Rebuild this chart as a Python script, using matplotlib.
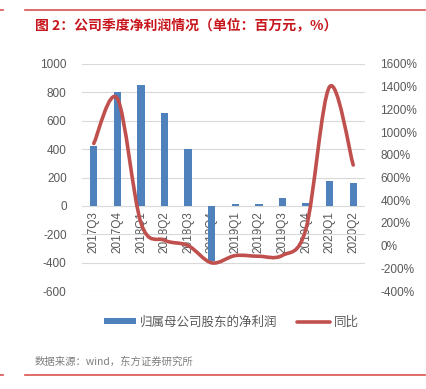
import numpy as np
import matplotlib as mpl
import matplotlib.pyplot as plt
from matplotlib.path import Path
from matplotlib.patches import PathPatch, Patch
from matplotlib.lines import Line2D

mpl.rc('font', family=['Noto Sans CJK SC', 'DejaVu Sans'])
mpl.rc('axes', unicode_minus=False)

quarters = ['2017Q3', '2017Q4', '2018Q1', '2018Q2', '2018Q3', '2018Q4',
            '2019Q1', '2019Q2', '2019Q3', '2019Q4', '2020Q1', '2020Q2']
net_profit = [420, 800, 850, 655, 400, -390, 10, 15, 55, 22, 178, 162]
yoy = [900, 1295, 200, 47, 0, -152, -88, -94, -86, 150, 1400, 710]

BLUE = '#4F81BD'
RED = '#C0504D'
GREY = '#595959'
NUM_FONT = ['Liberation Sans', 'DejaVu Sans']


def smooth_path(xs, ys):
    # Catmull-Rom 样式的平滑曲线（类似 Excel 的平滑线）
    pts = np.column_stack([xs, ys]).astype(float)
    verts = [pts[0]]
    codes = [Path.MOVETO]
    n = len(pts)
    for i in range(n - 1):
        p0 = pts[i - 1] if i > 0 else pts[i]
        p1 = pts[i]
        p2 = pts[i + 1]
        p3 = pts[i + 2] if i + 2 < n else pts[i + 1]
        c1 = p1 + (p2 - p0) / 6.0
        c2 = p2 - (p3 - p1) / 6.0
        verts += [c1, c2, p2]
        codes += [Path.CURVE4] * 3
    return Path(verts, codes)


fig = plt.figure(figsize=(4.27, 3.89), dpi=100)
ax = fig.add_axes([82 / 427, 1 - 291 / 389, 283 / 427, 227 / 389])
ax2 = ax.twinx()

x = np.arange(len(quarters))
ax.bar(x, net_profit, width=0.31, color=BLUE, zorder=2)
ax.set_ylim(-600, 1000)
ax.set_yticks(range(-600, 1001, 200))
ax.set_xlim(-0.5, len(quarters) - 0.5)
ax.grid(axis='y', color='#D9D9D9', lw=0.8, zorder=0)
ax.set_axisbelow(True)

# 类别轴放在 0 处
ax.spines['bottom'].set_position(('data', 0))
for s in ax.spines.values():
    s.set_visible(False)
for s in ax2.spines.values():
    s.set_visible(False)
ax.set_xticks(x)
ax.set_xticklabels(quarters, rotation=90, va='top', ha='center')
ax.tick_params(axis='x', length=0, pad=4, labelsize=8.5, labelcolor=GREY)
ax.tick_params(axis='y', length=0, pad=11, labelsize=8.5, labelcolor=GREY)

ax2.set_ylim(-400, 1600)
ax2.set_yticks(range(-400, 1601, 200))
ax2.set_yticklabels(['{}%'.format(v) for v in range(-400, 1601, 200)])
ax2.tick_params(axis='y', length=0, pad=11, labelsize=8.5, labelcolor=GREY)

for lab in ax.get_xticklabels() + ax.get_yticklabels() + ax2.get_yticklabels():
    lab.set_family(NUM_FONT)

patch = PathPatch(smooth_path(x, yoy), facecolor='none', edgecolor=RED,
                  lw=2.6, capstyle='round', joinstyle='round', zorder=3)
ax2.add_patch(patch)

# 图例
handles = [Patch(facecolor=BLUE, edgecolor='none'),
           Line2D([0], [0], color=RED, lw=2.6, solid_capstyle='round')]
fig.legend(handles, ['归属母公司股东的净利润', '同比'], loc='center',
           bbox_to_anchor=(231 / 427, 1 - 322 / 389), ncol=2, frameon=False,
           fontsize=9, labelcolor=GREY, handlelength=2.6, handleheight=0.45,
           columnspacing=1.6, handletextpad=0.3)

# 标题、来源和红线
fig.text(35 / 427, 1 - 25 / 389, '图 2：公司季度净利润情况（单位：百万元，%）',
         color='#C8161D', fontsize=10, weight='bold', va='center', ha='left')
fig.text(35 / 427, 1 - 362 / 389, '数据来源：wind，东方证券研究所',
         color='#7F7F7F', fontsize=7.5, va='center', ha='left')
for yy in (10, 375):
    fig.add_artist(Line2D([25 / 427, 425 / 427], [1 - yy / 389] * 2,
                          color='#D9534F', lw=1.2))
    fig.add_artist(Line2D([0, 3 / 427], [1 - yy / 389] * 2,
                          color='#D9534F', lw=1.2))

fig.savefig('out.png', dpi=100)
